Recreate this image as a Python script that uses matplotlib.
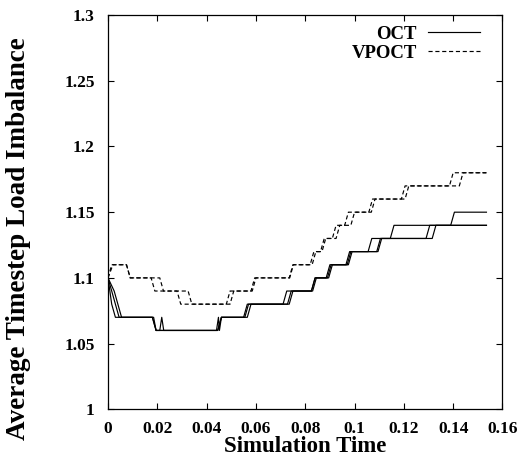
import matplotlib
matplotlib.use('Agg')
import matplotlib.pyplot as plt

# OCT runs: (time, load imbalance) vertices of each run
oct_a_t = [0, 0.0015, 0.003, 0.0045, 0.018, 0.0195, 0.0445, 0.046, 0.0555, 0.057,
           0.0735, 0.075, 0.0825, 0.084, 0.0885, 0.09, 0.0965, 0.098, 0.1055, 0.107,
           0.1145, 0.116, 0.139, 0.1405, 0.1535]
oct_a_v = [1.10, 1.09, 1.08, 1.07, 1.07, 1.06, 1.06, 1.07, 1.07, 1.08,
           1.08, 1.09, 1.09, 1.10, 1.10, 1.11, 1.11, 1.12, 1.12, 1.13,
           1.13, 1.14, 1.14, 1.15, 1.15]

oct_b_t = [0, 0.0025, 0.004, 0.0055, 0.018, 0.0195, 0.021, 0.0218, 0.0226, 0.0445,
           0.046, 0.055, 0.0565, 0.071, 0.0725, 0.0825, 0.084, 0.089, 0.0905, 0.097,
           0.0985, 0.109, 0.1105, 0.129, 0.1305, 0.1535]
oct_b_v = [1.10, 1.09, 1.08, 1.07, 1.07, 1.06, 1.06, 1.07, 1.06, 1.06,
           1.07, 1.07, 1.08, 1.08, 1.09, 1.09, 1.10, 1.10, 1.11, 1.11,
           1.12, 1.12, 1.13, 1.13, 1.14, 1.14]

oct_c_t = [0, 0.0015, 0.003, 0.0185, 0.0195, 0.044, 0.0448, 0.0452, 0.046, 0.0565,
           0.058, 0.0728, 0.0743, 0.083, 0.0845, 0.0895, 0.091, 0.0975, 0.099, 0.1095,
           0.111, 0.1315, 0.133, 0.1535]
oct_c_v = [1.10, 1.08, 1.07, 1.07, 1.06, 1.06, 1.07, 1.06, 1.07, 1.07,
           1.08, 1.08, 1.09, 1.09, 1.10, 1.10, 1.11, 1.11, 1.12, 1.12,
           1.13, 1.13, 1.14, 1.14]

# VPOCT runs
vpoct_a_t = [0, 0.0015, 0.0075, 0.009, 0.0175, 0.019, 0.028, 0.0295, 0.048, 0.0495,
             0.058, 0.0595, 0.0735, 0.075, 0.082, 0.0835, 0.0862, 0.0877, 0.091, 0.0925,
             0.096, 0.0975, 0.1058, 0.1073, 0.119, 0.1205, 0.1385, 0.14, 0.1535]
vpoct_a_v = [1.10, 1.11, 1.11, 1.10, 1.10, 1.09, 1.09, 1.08, 1.08, 1.09,
             1.09, 1.10, 1.10, 1.11, 1.11, 1.12, 1.12, 1.13, 1.13, 1.14,
             1.14, 1.15, 1.15, 1.16, 1.16, 1.17, 1.17, 1.18, 1.18]

vpoct_b_t = [0, 0.002, 0.0075, 0.009, 0.021, 0.0225, 0.0325, 0.034, 0.0495, 0.051,
             0.0585, 0.06, 0.0737, 0.0752, 0.0828, 0.0843, 0.0868, 0.0883, 0.0925, 0.094,
             0.0985, 0.1, 0.1068, 0.1083, 0.1205, 0.122, 0.1425, 0.144, 0.1535]
vpoct_b_v = [1.10, 1.11, 1.11, 1.10, 1.10, 1.09, 1.09, 1.08, 1.08, 1.09,
             1.09, 1.10, 1.10, 1.11, 1.11, 1.12, 1.12, 1.13, 1.13, 1.14,
             1.14, 1.15, 1.15, 1.16, 1.16, 1.17, 1.17, 1.18, 1.18]

x_ticks = [0, 0.02, 0.04, 0.06, 0.08, 0.1, 0.12, 0.14, 0.16]
x_tick_labels = ['0', '0.02', '0.04', '0.06', '0.08', '0.1', '0.12', '0.14', '0.16']
y_ticks = [1, 1.05, 1.1, 1.15, 1.2, 1.25, 1.3]
y_tick_labels = ['1', '1.05', '1.1', '1.15', '1.2', '1.25', '1.3']

plt.rcParams['font.family'] = ['Liberation Serif', 'DejaVu Serif']
plt.rcParams['font.weight'] = 'bold'

fig = plt.figure(figsize=(5.2, 4.57), dpi=100)
ax = fig.add_axes([0.2077, 0.1044, 0.7586, 0.8626])

solid = dict(color='black', lw=0.85)
dashed = dict(color='black', lw=0.85, dashes=(3.5, 2.3))

ax.plot(oct_a_t, oct_a_v, label='OCT', **solid)
ax.plot(oct_b_t, oct_b_v, **solid)
ax.plot(oct_c_t, oct_c_v, **solid)
ax.plot(vpoct_a_t, vpoct_a_v, label='VPOCT', **dashed)
ax.plot(vpoct_b_t, vpoct_b_v, **dashed)

ax.set_xlim(0, 0.16)
ax.set_ylim(1, 1.3)
ax.set_xticks(x_ticks)
ax.set_xticklabels(x_tick_labels)
ax.set_yticks(y_ticks)
ax.set_yticklabels(y_tick_labels)
ax.tick_params(direction='in', top=True, right=True, length=4.5, width=0.8,
               labelsize=12.5)
ax.tick_params(axis='x', pad=8.5)
ax.tick_params(axis='y', pad=9.5)
for s in ax.spines.values():
    s.set_linewidth(0.9)

ax.set_xlabel('Simulation Time', fontsize=16.5, fontweight='bold', va='top')
ax.xaxis.set_label_coords(0.5, -0.069)
ax.set_ylabel('Average Timestep Load Imbalance', fontsize=19.5, fontweight='bold')
ax.yaxis.set_label_coords(-0.196, 0.433)

leg = ax.legend(loc='upper right', bbox_to_anchor=(0.9425, 0.973), frameon=False,
                markerfirst=False, fontsize=13.5, handlelength=2.77,
                handletextpad=0.59, borderpad=0, borderaxespad=0,
                labelspacing=0.1)
for t in leg.get_texts():
    t.set_ha('right')

fig.savefig('out.png', dpi=100)
